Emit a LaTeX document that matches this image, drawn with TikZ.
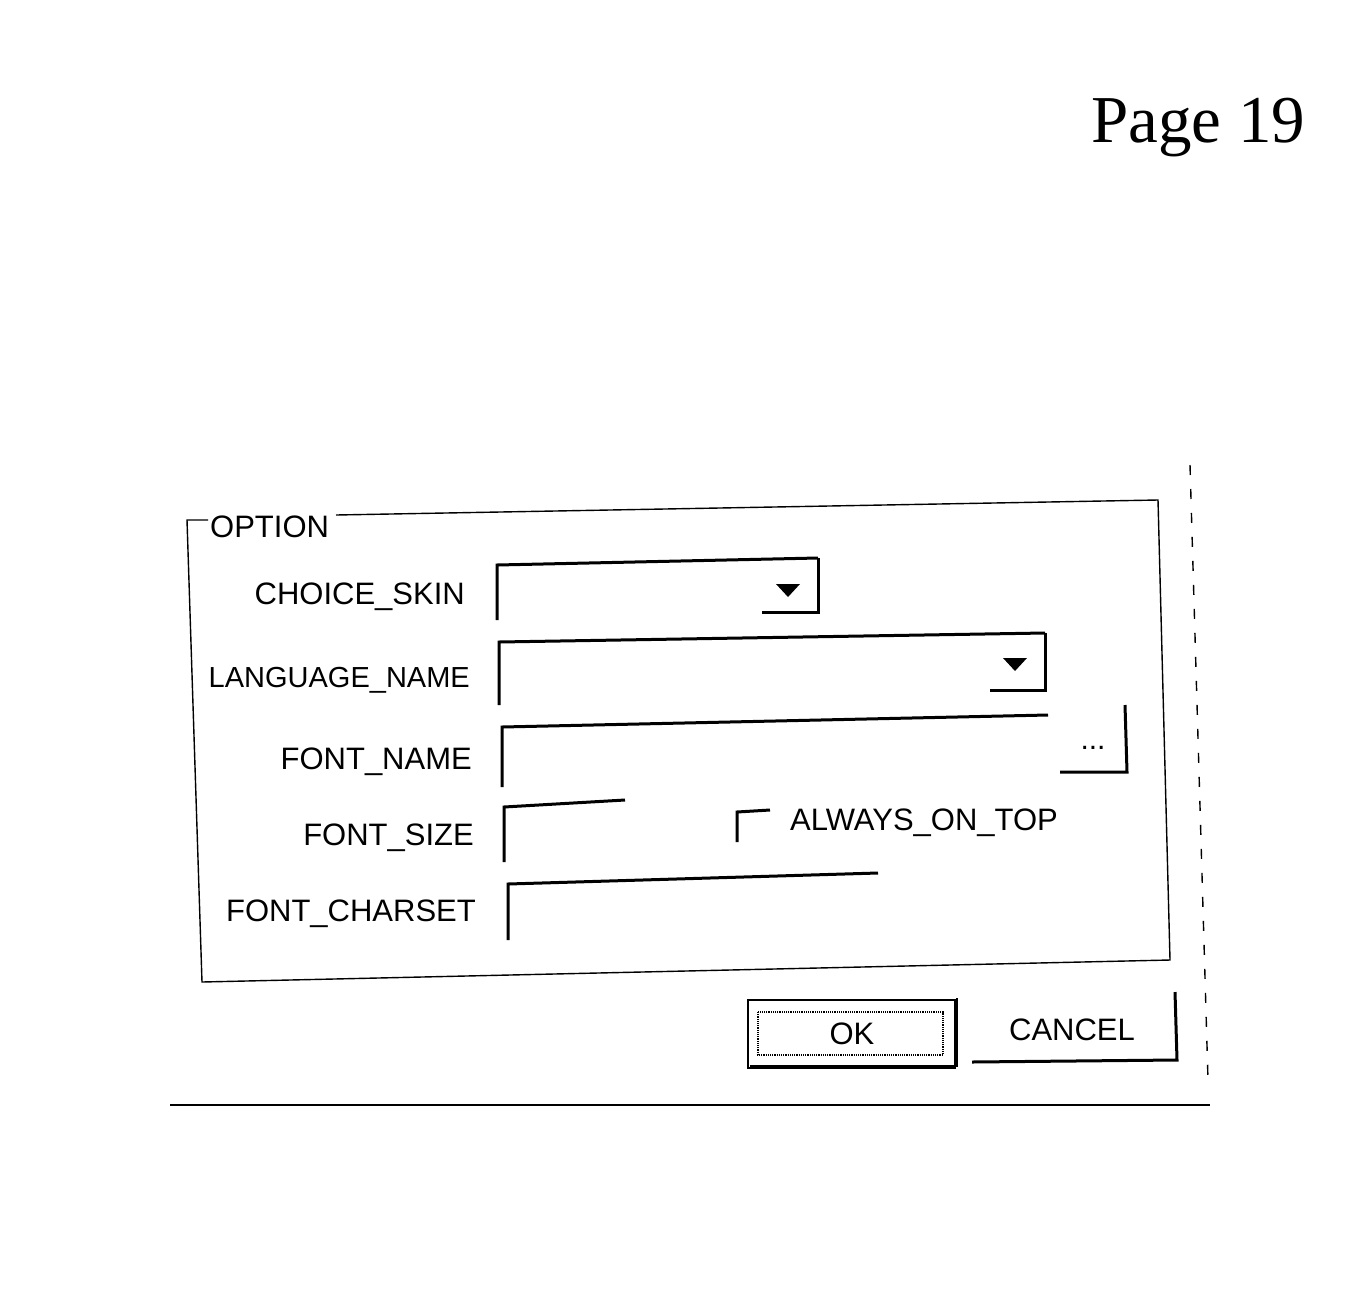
\documentclass[tikz,border=0pt]{standalone}
\usepackage{fontspec}
\setmainfont{Liberation Sans}
\newfontfamily\pagefont{Liberation Serif}
\begin{document}
\begin{tikzpicture}[x=1pt,y=-1pt,
 txt/.style={font=\fontsize{31}{34}\selectfont,inner sep=0pt},
 lbl/.style={txt,anchor=east},
 thick2/.style={line width=3pt},
 thin1/.style={line width=1.4pt}]
\useasboundingbox (0,0) rectangle (1359,1293);
\node[font=\pagefont\fontsize{67}{70}\selectfont] (page) at (1198,128) {Page 19};
% outer dialog edges
\draw[thin1,dash pattern=on 10pt off 14pt] (1190,465) -- (1208,1080);
\draw[line width=2pt] (170,1105) -- (1210,1105);
% group box
\draw[thin1] (208,520) -- (187,520) -- (202,982) -- (1170,960) -- (1158,500) -- (336,515);
\node[txt,anchor=west] (opt) at (210,527) {OPTION};
% labels
\node[lbl] (l1) at (465,597) {CHOICE\_SKIN};
\node[lbl,font=\fontsize{29}{32}\selectfont] (l2) at (470,680) {LANGUAGE\_NAME};
\node[lbl] (l3) at (472,762) {FONT\_NAME};
\node[lbl] (l4) at (474,838) {FONT\_SIZE};
\node[lbl] (l5) at (476,914) {FONT\_CHARSET};
% combo 1
\draw[thick2] (497,620) -- (497,565) -- (818,558);
\draw[thick2] (818,558) -- (818,612) -- (762,612);
\fill (776,584) -- (800,584) -- (788,597) -- cycle;
% combo 2
\draw[thick2] (499,705) -- (499,642) -- (1045,633);
\draw[thick2] (1045,633) -- (1045,690) -- (990,690);
\fill (1003,658) -- (1027,658) -- (1015,671) -- cycle;
% font name
\draw[thick2] (502,787) -- (502,727) -- (1048,715);
\draw[thick2] (1125,705) -- (1127,772) -- (1060,772);
\node[font=\fontsize{30}{32}\selectfont] (dots) at (1093,748) {...};
% font size
\draw[thick2] (504,862) -- (504,807) -- (625,800);
% checkbox
\draw[thick2] (737,842) -- (737,812) -- (770,810);
\node[txt,anchor=west] (aot) at (790,823) {ALWAYS\_ON\_TOP};
% charset
\draw[thick2] (508,940) -- (508,884) -- (878,873);
% OK
\draw[line width=2.5pt] (748,1000) rectangle (955,1068);
\draw[line width=1.5pt] (750,1066) -- (957,1066) -- (957,998);
\draw[line width=1.2pt,densely dotted] (758,1012) rectangle (943,1055);
\node[txt] (ok) at (852,1034) {OK};
% cancel
\draw[thick2] (1175,992) -- (1177,1060) -- (972,1062);
\node[txt] (cancel) at (1072,1030) {CANCEL};
\end{tikzpicture}
\end{document}
